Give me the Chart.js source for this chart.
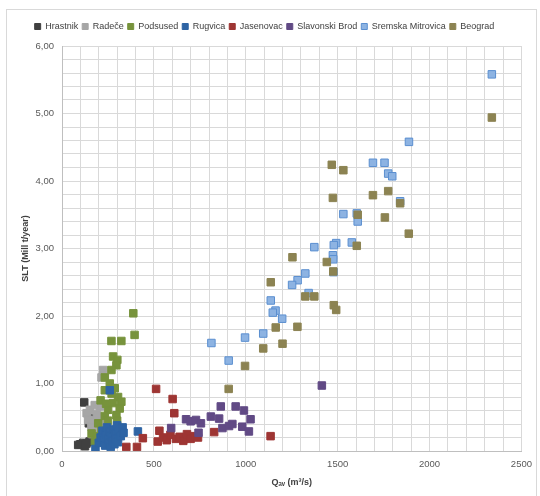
<!DOCTYPE html>
<html>
<head>
<meta charset="utf-8">
<script src="https://cdn.jsdelivr.net/npm/chart.js@4"></script>
<style>
  html, body { margin: 0; padding: 0; background: #fff; }
  canvas { display: block; }
</style>
</head>
<body>
<canvas id="sltChart" width="540" height="496"></canvas>
<script>
// station names (legend order)
const stations = ["Hrastnik", "Radeče", "Podsused", "Rugvica", "Jasenovac", "Slavonski Brod", "Sremska Mitrovica", "Beograd"];

// [Q_av (m3/s), SLT (Mill t/year)]
const hrastnik = [[121, 0.72], [146, 0.41], [100, 0.10], [115, 0.12], [133, 0.11], [150, 0.14], [125, 0.07], [88, 0.09], [175, 0.48]];
const radece = [[224, 1.20], [215, 1.09], [206, 0.66], [152, 0.61], [178, 0.68], [134, 0.56], [142, 0.46], [160, 0.36], [170, 0.46], [190, 0.55], [200, 0.50], [185, 0.30], [165, 0.25], [195, 0.20], [210, 0.40]];
const podsused = [[388, 2.04], [395, 1.72], [269, 1.63], [323, 1.63], [278, 1.40], [301, 1.35], [296, 1.27], [269, 1.20], [233, 1.09], [260, 1.00], [287, 0.93], [233, 0.90], [305, 0.80], [323, 0.73], [278, 0.71], [314, 0.63], [251, 0.61], [233, 0.52], [296, 0.53], [197, 0.41], [161, 0.26], [179, 0.14], [250, 0.45], [215, 0.30], [230, 0.20], [300, 0.45], [270, 0.85], [210, 0.75], [240, 0.70], [190, 0.22]];
const rugvica = [[182, 0.03], [200, 0.12], [210, 0.20], [220, 0.30], [225, 0.16], [235, 0.08], [240, 0.25], [245, 0.35], [250, 0.18], [255, 0.12], [260, 0.28], [265, 0.06], [270, 0.22], [275, 0.15], [280, 0.32], [285, 0.10], [290, 0.25], [295, 0.18], [300, 0.38], [305, 0.13], [310, 0.30], [320, 0.22], [330, 0.35], [335, 0.27], [260, 0.90], [413, 0.29]];
const jasenovac = [[350, 0.06], [408, 0.06], [440, 0.19], [512, 0.92], [521, 0.14], [530, 0.30], [550, 0.20], [570, 0.16], [590, 0.24], [602, 0.77], [611, 0.56], [620, 0.18], [640, 0.21], [660, 0.15], [680, 0.25], [700, 0.18], [720, 0.22], [740, 0.20], [828, 0.28], [1135, 0.22]];
const slavonskiBrod = [[594, 0.34], [675, 0.47], [700, 0.44], [729, 0.46], [743, 0.27], [756, 0.41], [810, 0.51], [855, 0.48], [864, 0.66], [873, 0.34], [909, 0.37], [927, 0.40], [945, 0.66], [981, 0.36], [990, 0.60], [1017, 0.29], [1026, 0.47], [1414, 0.97]];
const sremskaMitrovica = [[2339, 5.58], [1888, 4.58], [1692, 4.27], [1755, 4.27], [1775, 4.11], [1797, 4.07], [1840, 3.70], [1531, 3.51], [1604, 3.52], [1609, 3.40], [1577, 3.09], [1492, 3.08], [1479, 3.05], [1373, 3.02], [1474, 2.90], [1476, 2.84], [1477, 2.65], [1324, 2.63], [1282, 2.53], [1252, 2.46], [1342, 2.34], [1136, 2.23], [1162, 2.08], [1147, 2.05], [1198, 1.96], [1095, 1.74], [996, 1.68], [907, 1.34], [813, 1.60]];
const beograd = [[2339, 4.94], [1468, 4.24], [1531, 4.16], [1474, 3.75], [1692, 3.79], [1775, 3.85], [1840, 3.67], [1757, 3.46], [1609, 3.50], [1887, 3.22], [1604, 3.04], [1254, 2.87], [1441, 2.80], [1476, 2.66], [1136, 2.50], [1324, 2.29], [1373, 2.29], [1479, 2.16], [1492, 2.09], [1163, 1.83], [1281, 1.84], [1095, 1.52], [1200, 1.59], [996, 1.26], [907, 0.92]];

const seriesData = [hrastnik, radece, podsused, rugvica, jasenovac, slavonskiBrod, sremskaMitrovica, beograd];
const fillColors = ["#404040", "#A6A6A6", "#77933C", "#2E64A4", "#9E3533", "#614A85", "#8DB3E2", "#8C8352"];
const edgeColors = ["#404040", "#A6A6A6", "#77933C", "#2E64A4", "#9E3533", "#614A85", "#5B8FD0", "#8C8352"];

const FONT = "'Liberation Sans', Arial, sans-serif";

const datasets = stations.map((name, i) => ({
    label: name,
    data: seriesData[i].map(p => ({ x: p[0], y: p[1] })),
    backgroundColor: fillColors[i],
    borderColor: edgeColors[i],
    borderWidth: 1,
    pointStyle: "rect",
    pointRadius: 5.3,
    pointHoverRadius: 5.3,
    order: stations.length - i   // later series on top, like the original
}));

const fmt = v => v.toFixed(2).replace(".", ",");

// extra space under the legend
const legendGap = {
    id: "legendGap",
    beforeInit(chart) {
        const fit = chart.legend.fit;
        chart.legend.fit = function () {
            fit.bind(chart.legend)();
            this.height += 5;
        };
    }
};

// faint frame around the whole chart
const frame = {
    id: "frame",
    beforeDraw(chart) {
        const ctx = chart.ctx;
        ctx.save();
        ctx.strokeStyle = "#D9D9D9";
        ctx.lineWidth = 1;
        ctx.strokeRect(6.5, 9.5, 530, 500);
        ctx.restore();
    }
};

new Chart(document.getElementById("sltChart"), {
    type: "scatter",
    data: { datasets },
    plugins: [legendGap, frame],
    options: {
        responsive: false,
        animation: false,
        events: [],
        layout: { padding: { top: 18, left: 0, right: 11, bottom: 0 } },
        plugins: {
            tooltip: { enabled: false },
            legend: {
                position: "top",
                labels: {
                    boxWidth: 6,
                    boxHeight: 6,
                    padding: 4,
                    color: "#404040",
                    font: { family: FONT, size: 9 },
                    sort: (a, b) => a.datasetIndex - b.datasetIndex
                }
            }
        },
        scales: {
            x: {
                type: "linear",
                min: 0,
                max: 2500,
                afterFit: s => { s.height = 45; },
                ticks: {
                    stepSize: 100,
                    autoSkip: false,
                    maxRotation: 0,
                    padding: 8,
                    color: "#595959",
                    font: { family: FONT, size: 9.5 },
                    callback: v => (v % 500 === 0 ? String(v) : "")
                },
                grid: { color: "#D9D9D9", drawTicks: false },
                border: { color: "#BFBFBF" },
                title: {
                    display: true,
                    text: "Qₐᵥ (m³/s)",
                    color: "#404040",
                    font: { family: FONT, size: 9, weight: "bold" },
                    padding: { top: 0, bottom: 8 }
                }
            },
            y: {
                type: "linear",
                min: 0,
                max: 6,
                afterFit: s => { s.width = 62; },
                ticks: {
                    stepSize: 0.2,
                    autoSkip: false,
                    padding: 8,
                    color: "#595959",
                    font: { family: FONT, size: 9.5 },
                    callback: v => (Math.abs(v - Math.round(v)) < 1e-6 ? fmt(v) : "")
                },
                grid: { color: "#D9D9D9", drawTicks: false },
                border: { color: "#BFBFBF" },
                title: {
                    display: true,
                    text: "SLT (Mill t/year)",
                    color: "#404040",
                    font: { family: FONT, size: 9, weight: "bold" },
                    padding: { top: 20, bottom: 0 }
                }
            }
        }
    }
});
</script>
</body>
</html>
